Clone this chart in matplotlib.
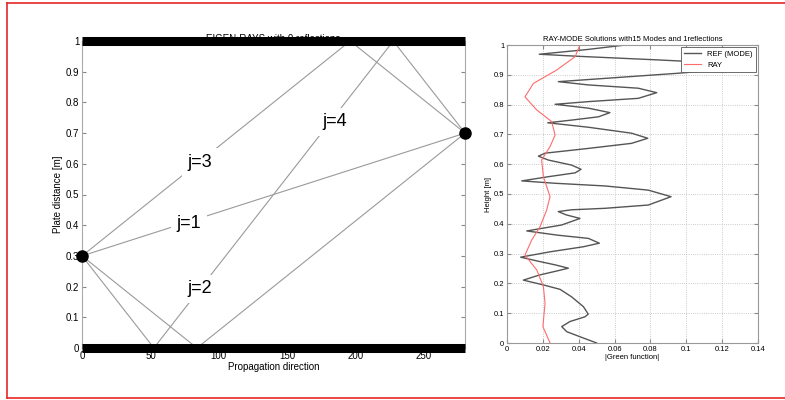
import numpy as np
import matplotlib as mpl
import matplotlib.pyplot as plt
from matplotlib.lines import Line2D

mpl.rcParams['font.family'] = ['Liberation Sans', 'DejaVu Sans']
mpl.rcParams['font.size'] = 7

# ---- left panel: eigen-rays between source and receiver
src = (0, 0.3)
rcv = (280, 0.7)
ray_x = [[0, 280], [0, 84, 280], [0, 196, 280], [0, 52.5, 227.5, 280]]
ray_y = [[0.3, 0.7], [0.3, 0.0, 0.7], [0.3, 1.0, 0.7], [0.3, 0.0, 1.0, 0.7]]
ray_labels = ['j=1', 'j=2', 'j=3', 'j=4']
label_x = [78, 86, 86, 185]
label_y = [0.405, 0.193, 0.604, 0.737]
left_xticks = [0, 50, 100, 150, 200, 250]
left_yticks = [0, 0.1, 0.2, 0.3, 0.4, 0.5, 0.6, 0.7, 0.8, 0.9, 1]

# ---- right panel: mode vs ray green function
mode_y = [0.0, 0.021, 0.038, 0.055, 0.072, 0.088, 0.097, 0.122, 0.155, 0.18, 0.195,
          0.211, 0.228, 0.242, 0.251, 0.262, 0.275, 0.288, 0.306, 0.323, 0.335, 0.351,
          0.362, 0.376, 0.396, 0.418, 0.430, 0.441, 0.447, 0.452, 0.463, 0.491, 0.513,
          0.527, 0.536, 0.544, 0.558, 0.571, 0.583, 0.597, 0.614, 0.627, 0.637, 0.653,
          0.670, 0.687, 0.704, 0.724, 0.739, 0.748, 0.759, 0.773, 0.788, 0.801, 0.81,
          0.821, 0.84, 0.855, 0.866, 0.877, 0.905, 0.92, 0.935, 0.95, 0.962, 0.969,
          0.985, 1.0]
mode_g = [0.050, 0.0407, 0.0333, 0.0305, 0.0351, 0.0435, 0.0453, 0.0426, 0.036, 0.0296,
          0.0202, 0.0091, 0.018, 0.028, 0.0342, 0.027, 0.017, 0.0076, 0.024, 0.0426,
          0.0515, 0.0454, 0.028, 0.011, 0.0305, 0.0407, 0.033, 0.0286, 0.036, 0.0547,
          0.0788, 0.0915, 0.0788, 0.0547, 0.0268, 0.0082, 0.023, 0.038, 0.0413, 0.036,
          0.023, 0.0175, 0.0212, 0.0454, 0.0695, 0.0785, 0.0695, 0.0454, 0.0227, 0.036,
          0.051, 0.0574, 0.0454, 0.0268, 0.0454, 0.0732, 0.0835, 0.0732, 0.0454, 0.0286,
          0.095, 0.125, 0.135, 0.084, 0.040, 0.018, 0.045, 0.066]
ray_gy = [0.0, 0.055, 0.133, 0.189, 0.245, 0.295, 0.346, 0.39, 0.446, 0.491, 0.558,
          0.614, 0.659, 0.698, 0.743, 0.782, 0.826, 0.871, 0.916, 0.961, 1.0]
ray_g = [0.024, 0.020, 0.0212, 0.0203, 0.0166, 0.010, 0.0138, 0.0184, 0.0221, 0.024,
         0.0203, 0.0193, 0.024, 0.0268, 0.0249, 0.0166, 0.010, 0.0147, 0.0277, 0.038,
         0.0407]
right_xticks = [0, 0.02, 0.04, 0.06, 0.08, 0.1, 0.12, 0.14]
right_xlabels = ['0', '0.02', '0.04', '0.06', '0.08', '0.1', '0.12', '0.14']
right_yticks = [0, 0.1, 0.2, 0.3, 0.4, 0.5, 0.6, 0.7, 0.8, 0.9, 1]
ytick_labels = ['0', '0.1', '0.2', '0.3', '0.4', '0.5', '0.6', '0.7', '0.8', '0.9', '1']

fig = plt.figure(figsize=(7.85, 4.0), dpi=100)

# red frame round the picture
fig.add_artist(Line2D([0.009, 0.009], [0.005, 0.993], color='#e8262a', lw=1.2))
fig.add_artist(Line2D([0.009, 1.0], [0.993, 0.993], color='#e8262a', lw=1.2))
fig.add_artist(Line2D([0.009, 1.0], [0.005, 0.005], color='#e8262a', lw=1.2))

ax1 = fig.add_axes([0.1045, 0.13, 0.488, 0.7675])
ax1.set_title('EIGEN-RAYS with 0 reflections', fontsize=7, pad=-1)
for xs, ys in zip(ray_x, ray_y):
    ax1.plot(xs, ys, color='#9a9a9a', lw=0.8, zorder=2)
ax1.plot([0, 280], [1, 1], color='black', lw=6.5, solid_capstyle='butt', clip_on=False, zorder=6)
ax1.plot([0, 280], [0, 0], color='black', lw=6.5, solid_capstyle='butt', clip_on=False, zorder=6)
ax1.plot([src[0], rcv[0]], [src[1], rcv[1]], 'o', color='black', ms=8, clip_on=False, zorder=7)
for lab, lx, ly in zip(ray_labels, label_x, label_y):
    ax1.text(lx, ly, lab, fontsize=13, ha='center', va='center', zorder=4,
             bbox=dict(facecolor='white', edgecolor='none', pad=4))
ax1.set_xlim(0, 280)
ax1.set_ylim(0, 1)
ax1.set_xticks(left_xticks)
ax1.set_yticks(left_yticks)
ax1.set_yticklabels(ytick_labels)
ax1.tick_params(direction='in', top=True, right=True, length=3, color='#888888', labelsize=7, pad=2)
for s in ax1.spines.values():
    s.set_color('#aaaaaa')
ax1.set_xlabel('Propagation direction', fontsize=7, labelpad=1)
ax1.set_ylabel('Plate distance [m]', fontsize=7, labelpad=2)

ax2 = fig.add_axes([0.6459, 0.1425, 0.3197, 0.745])
ax2.plot(mode_g, mode_y, color='#555555', lw=1.0, label='REF (MODE)')
ax2.plot(ray_g, ray_gy, color='#ff6b6b', lw=0.8, label='RAY')
ax2.set_xlim(0, 0.14)
ax2.set_ylim(0, 1)
ax2.set_xticks(right_xticks)
ax2.set_xticklabels(right_xlabels)
ax2.set_yticks(right_yticks)
ax2.set_yticklabels(ytick_labels)
ax2.grid(True, linestyle=':', color='#bbbbbb', lw=0.6)
ax2.tick_params(direction='in', top=True, right=True, length=3, color='#888888', labelsize=5.5, pad=2)
for s in ax2.spines.values():
    s.set_color('#999999')
ax2.set_xlabel('|Green function|', fontsize=5.5, labelpad=1)
ax2.set_ylabel('Height [m]', fontsize=5.5, labelpad=1)
ax2.set_title('RAY-MODE Solutions with15 Modes and 1reflections', fontsize=5.5, pad=3)
leg = ax2.legend(loc='upper right', fontsize=5.5, fancybox=False, framealpha=1,
                 borderaxespad=0.3, handlelength=2.2)
leg.get_frame().set_edgecolor('#555555')
leg.get_frame().set_linewidth(0.6)

fig.savefig('out.png', dpi=100)
